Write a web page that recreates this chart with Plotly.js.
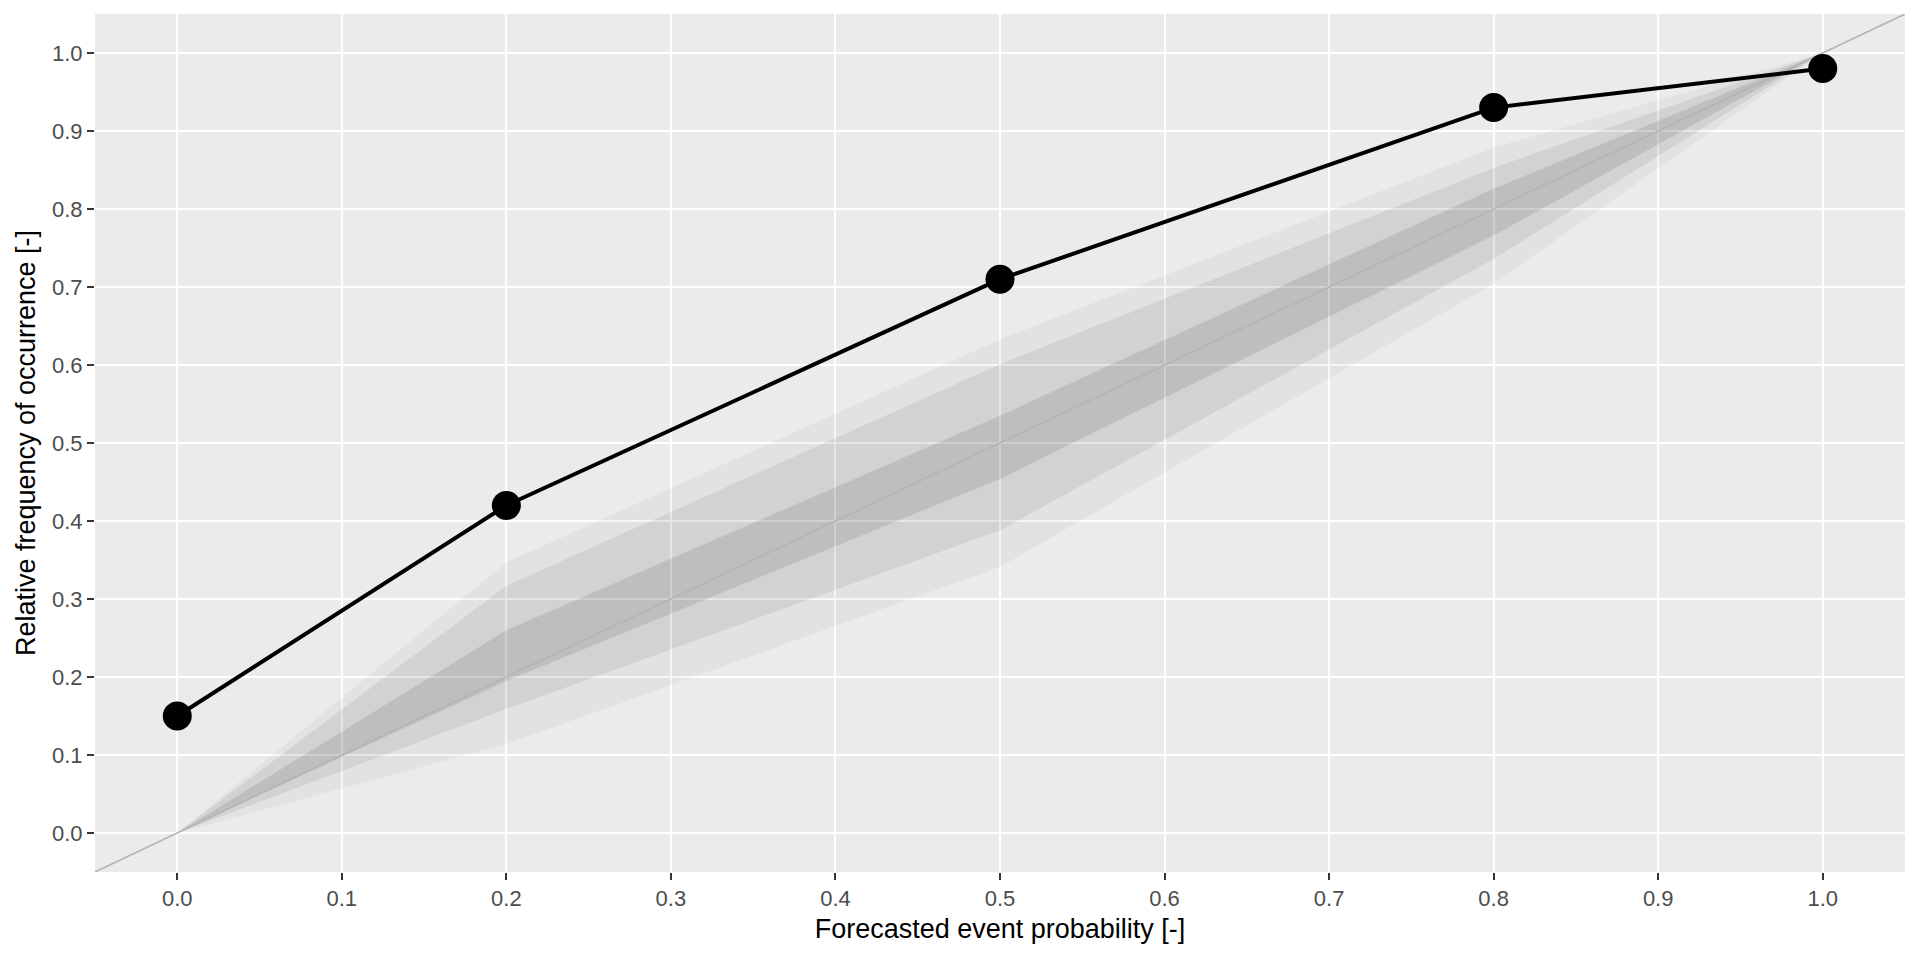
<!DOCTYPE html>
<html>
<head>
<meta charset="utf-8">
<script src="https://cdn.plot.ly/plotly-3.0.1.min.js"></script>
<style>
  html, body { margin: 0; padding: 0; background: #ffffff; }
  #chart { width: 1920px; height: 960px; }
</style>
</head>
<body>
<div id="chart"></div>
<script>
// forecast bins and observed frequencies
var forecastProb = [0, 0.2, 0.5, 0.8, 1.0];
var observedFreq = [0.15, 0.42, 0.71, 0.93, 0.98];

// consistency bands (outer, middle, inner)
var outerUpper = [0, 0.347, 0.633, 0.879, 1];
var outerLower = [0, 0.114, 0.341, 0.704, 1];
var midUpper   = [0, 0.317, 0.601, 0.853, 1];
var midLower   = [0, 0.159, 0.388, 0.736, 1];
var innerUpper = [0, 0.260, 0.535, 0.826, 1];
var innerLower = [0, 0.195, 0.454, 0.766, 1];

var tickVals = [0, 0.1, 0.2, 0.3, 0.4, 0.5, 0.6, 0.7, 0.8, 0.9, 1.0];
var axisRange = [-0.05, 1.05];

function band(upper, lower, alpha) {
    var back = forecastProb.slice().reverse();
    return {
        x: forecastProb.concat(back),
        y: upper.concat(lower.slice().reverse()),
        type: 'scatter',
        mode: 'lines',
        fill: 'toself',
        fillcolor: 'rgba(0,0,0,' + alpha + ')',
        line: {width: 0},
        hoverinfo: 'skip',
        showlegend: false
    };
}

var data = [
    band(outerUpper, outerLower, 0.035),
    band(midUpper, midLower, 0.066),
    band(innerUpper, innerLower, 0.094),
    // perfect reliability line y = x, across the whole panel
    {
        x: axisRange,
        y: axisRange,
        type: 'scatter',
        mode: 'lines',
        line: {color: '#B4B4B4', width: 1.6},
        hoverinfo: 'skip',
        showlegend: false
    },
    {
        x: forecastProb,
        y: observedFreq,
        type: 'scatter',
        mode: 'lines+markers',
        line: {color: '#000000', width: 4},
        marker: {color: '#000000', size: 29},
        showlegend: false
    }
];

var axisStyle = {
    range: axisRange,
    tickvals: tickVals,
    tickformat: '.1f',
    showgrid: true,
    gridcolor: '#ffffff',
    gridwidth: 2,
    zeroline: false,
    showline: false,
    ticks: 'outside',
    ticklen: 7,
    tickwidth: 2,
    tickcolor: '#333333',
    tickfont: {family: 'Liberation Sans, Arial, sans-serif', size: 22, color: '#4D4D4D'},
    fixedrange: true
};

var layout = {
    width: 1920,
    height: 960,
    showlegend: false,
    paper_bgcolor: '#ffffff',
    plot_bgcolor: '#EBEBEB',
    margin: {l: 95, r: 15, t: 14, b: 88},
    font: {family: 'Liberation Sans, Arial, sans-serif', color: '#000000'},
    xaxis: Object.assign({}, axisStyle, {
        title: {text: 'Forecasted event probability [-]', font: {size: 27, color: '#000000'}, standoff: 8}
    }),
    yaxis: Object.assign({}, axisStyle, {
        title: {text: 'Relative frequency of occurrence [-]', font: {size: 27, color: '#000000'}, standoff: 8}
    })
};

Plotly.newPlot('chart', data, layout, {displayModeBar: false, staticPlot: true});
</script>
</body>
</html>
